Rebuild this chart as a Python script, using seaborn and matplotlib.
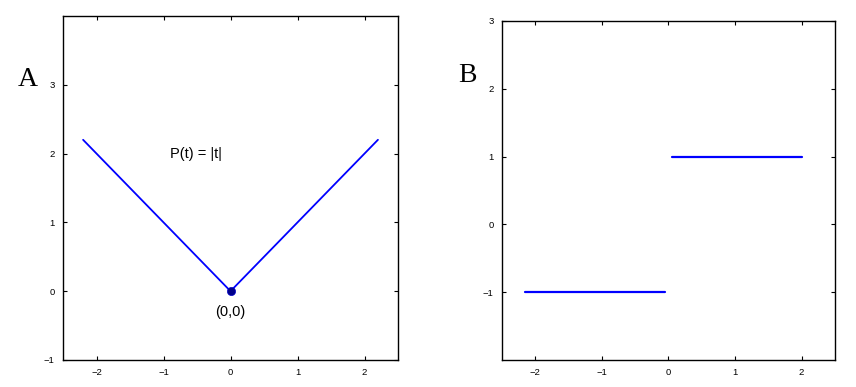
import matplotlib
matplotlib.use("Agg")
import matplotlib.pyplot as plt
import seaborn as sns
import pandas as pd

sns.set_theme(style="ticks")
plt.rcParams['font.family'] = ['Liberation Sans', 'DejaVu Sans']
plt.rcParams['text.color'] = 'black'
plt.rcParams['xtick.color'] = 'black'
plt.rcParams['ytick.color'] = 'black'
plt.rcParams['axes.edgecolor'] = 'black'

# Panel A data: P(t) = |t|
t_a = [-2.2, 0.0, 2.2]
p_a = [2.2, 0.0, 2.2]
point_a = (0.0, 0.0)

# Panel B data: derivative sign(t), two segments
seg_b = ["neg", "neg", "pos", "pos"]
t_b = [-2.15, -0.05, 0.05, 2.0]
p_b = [-1.0, -1.0, 1.0, 1.0]

xticks = [-2, -1, 0, 1, 2]
yticks_a = [-1, 0, 1, 2, 3]
yticks_b = [-1, 0, 1, 2, 3]

fig = plt.figure(figsize=(8.56, 3.87), dpi=100)
axA = fig.add_axes([0.0736, 0.0698, 0.3914, 0.889])
axB = fig.add_axes([0.5864, 0.0698, 0.389, 0.876])

blue = "#0000ff"

dfA = pd.DataFrame({"t": t_a, "p": p_a})
sns.lineplot(data=dfA, x="t", y="p", ax=axA, color=blue, lw=1.3, sort=False, estimator=None)
sns.scatterplot(x=[point_a[0]], y=[point_a[1]], ax=axA, color="#00008b", s=35, edgecolor="#0000cc", zorder=5)
axA.text(-0.52, 2.0, "P(t) = |t|", fontsize=10.5, ha="center", va="center")
axA.text(0.0, -0.3, "(0,0)", fontsize=10.5, ha="center", va="center")
axA.set_xlim(-2.5, 2.5)
axA.set_ylim(-1, 4)
axA.set_yticks(yticks_a)

dfB = pd.DataFrame({"seg": seg_b, "t": t_b, "p": p_b})
sns.lineplot(data=dfB, x="t", y="p", units="seg", ax=axB, color=blue, lw=1.6, estimator=None, sort=False)
axB.set_xlim(-2.5, 2.5)
axB.set_ylim(-2, 3)
axB.set_yticks(yticks_b)

for ax in (axA, axB):
    ax.set_xticks(xticks)
    ax.set_xticklabels(["\u22122", "\u22121", "0", "1", "2"])
    ax.tick_params(direction="in", top=True, right=True, labelsize=6.8, length=3, width=0.8, pad=6, colors="black")
    ax.set_xlabel("")
    ax.set_ylabel("")
    for s in ax.spines.values():
        s.set_visible(True)
        s.set_linewidth(1.0)
        s.set_color("black")

axA.set_yticklabels(["\u22121", "0", "1", "2", "3"])
axB.set_yticklabels(["\u22121", "0", "1", "2", "3"])

fig.text(28 / 856, 1 - 80 / 387, "A", fontsize=20, color="black", family=["Liberation Serif", "DejaVu Serif"], ha="center", va="center")
fig.text(467 / 856, 1 - 75 / 387, "B", fontsize=20, color="black", family=["Liberation Serif", "DejaVu Serif"], ha="center", va="center")

fig.savefig("out.png", dpi=100, facecolor="white")
